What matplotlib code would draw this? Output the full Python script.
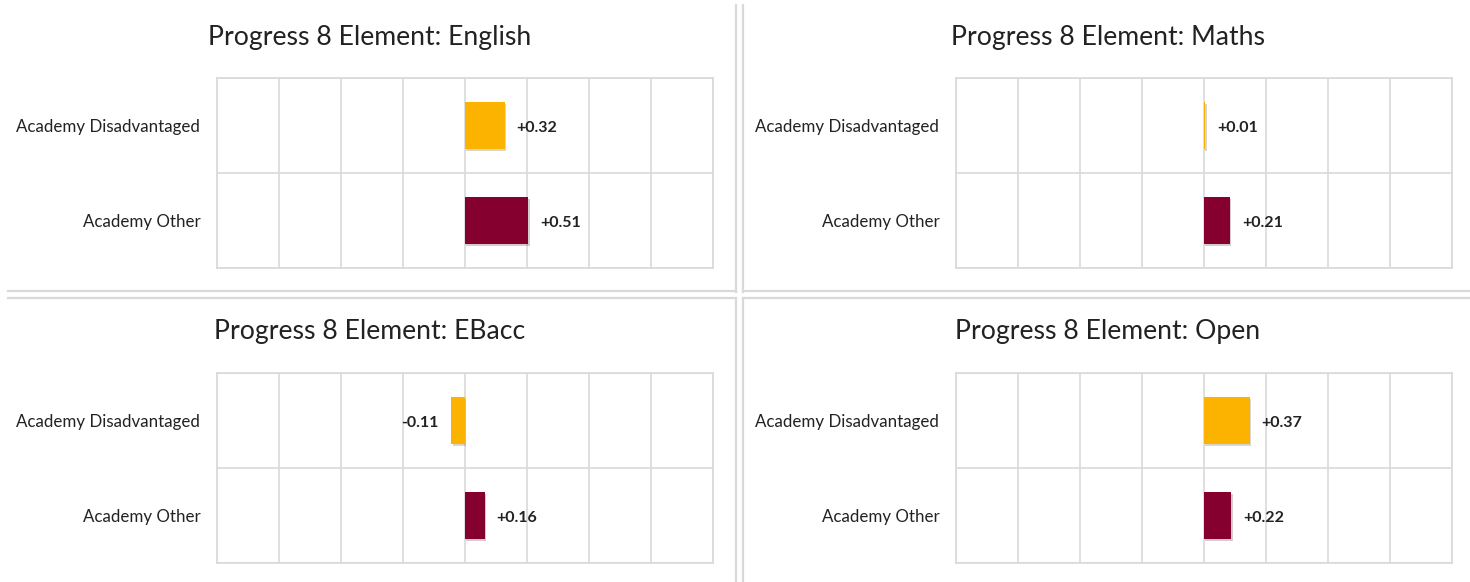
"""Progress 8 element charts: academy disadvantaged vs other"""

import matplotlib.pyplot as plt
from matplotlib.lines import Line2D
import matplotlib.patheffects as pe

plt.rcParams['font.family'] = ['Lato', 'DejaVu Sans']

# data
categories = ['Academy Disadvantaged', 'Academy Other']
titles = ['Progress 8 Element: English', 'Progress 8 Element: Maths',
          'Progress 8 Element: EBacc', 'Progress 8 Element: Open']
english = [0.32, 0.51]
maths = [0.01, 0.21]
ebacc = [-0.11, 0.16]
open_elem = [0.37, 0.22]
bar_colors = ['#FBB300', '#85002F']

W, H = 1470, 582
GRID = '#d9d9d9'


def px_box(x0, y0, x1, y1):
    """convert pixel box (top-left origin) into figure fraction rect"""
    return [x0 / W, 1 - y1 / H, (x1 - x0) / W, (y1 - y0) / H]


def sep_line(fig, x0, y0, x1, y1):
    """light grey panel edge, given in pixels"""
    fig.lines.append(Line2D([x0 / W, x1 / W], [1 - y0 / H, 1 - y1 / H],
                            transform=fig.transFigure, color=GRID,
                            linewidth=1.6))


def draw_panel(fig, title_xy, plot_box, title, values):
    """draws one panel title and its bar chart"""
    fig.text(title_xy[0] / W, 1 - title_xy[1] / H, title,
             ha='center', va='center', fontsize=19.2, color='#222222')

    axis = fig.add_axes(px_box(*plot_box))
    ypos = list(range(len(categories)))
    shadow = [pe.SimplePatchShadow(offset=(1, -1.5), alpha=0.2),
              pe.Normal()]
    bars = axis.barh(ypos, values, height=0.5, color=bar_colors, zorder=3)
    for bar in bars:
        bar.set_path_effects(shadow)
    for y, val in zip(ypos, values):
        if val >= 0:
            axis.annotate(f'{val:+.2f}', (val, y), xytext=(8.5, -1.5),
                          textcoords='offset points', ha='left',
                          va='center', fontsize=11.5, fontweight='bold',
                          color='#222222', zorder=4)
        else:
            axis.annotate(f'{val:.2f}', (val, y), xytext=(-9, -1.5),
                          textcoords='offset points', ha='right',
                          va='center', fontsize=11.5, fontweight='bold',
                          color='#222222', zorder=4)

    axis.set_xlim(-2, 2)
    axis.set_ylim(1.5, -0.5)
    axis.set_xticks([-2 + 0.5 * i for i in range(9)])
    axis.set_yticks([-0.5, 0.5, 1.5])
    axis.set_yticks(ypos, minor=True)
    axis.set_yticklabels(categories, minor=True, fontsize=12.2,
                         color='#222222')
    axis.set_yticklabels([])
    axis.set_xticklabels([])
    axis.tick_params(which='both', length=0)
    axis.tick_params(axis='y', which='minor', pad=12)
    axis.grid(True, color=GRID, linewidth=1.2, zorder=0)
    axis.set_axisbelow(True)
    for spine in axis.spines.values():
        spine.set_color(GRID)
        spine.set_linewidth(1.2)


fig = plt.figure(figsize=(14.7, 5.82), dpi=100)

# panel separators
sep_line(fig, 736, 5, 736, 292)
sep_line(fig, 8, 291, 736, 291)
sep_line(fig, 743, 5, 743, 292)
sep_line(fig, 743, 291, 1470, 291)
sep_line(fig, 8, 298, 736, 298)
sep_line(fig, 736, 298, 736, 582)
sep_line(fig, 743, 298, 1470, 298)
sep_line(fig, 743, 298, 743, 582)

draw_panel(fig, (370, 37), (217, 78, 713, 268), titles[0], english)
draw_panel(fig, (1108, 37), (956, 78, 1452, 268), titles[1], maths)
draw_panel(fig, (370, 331), (217, 373, 713, 563), titles[2], ebacc)
draw_panel(fig, (1108, 331), (956, 373, 1452, 563), titles[3], open_elem)

fig.savefig('out.png', dpi=100)
